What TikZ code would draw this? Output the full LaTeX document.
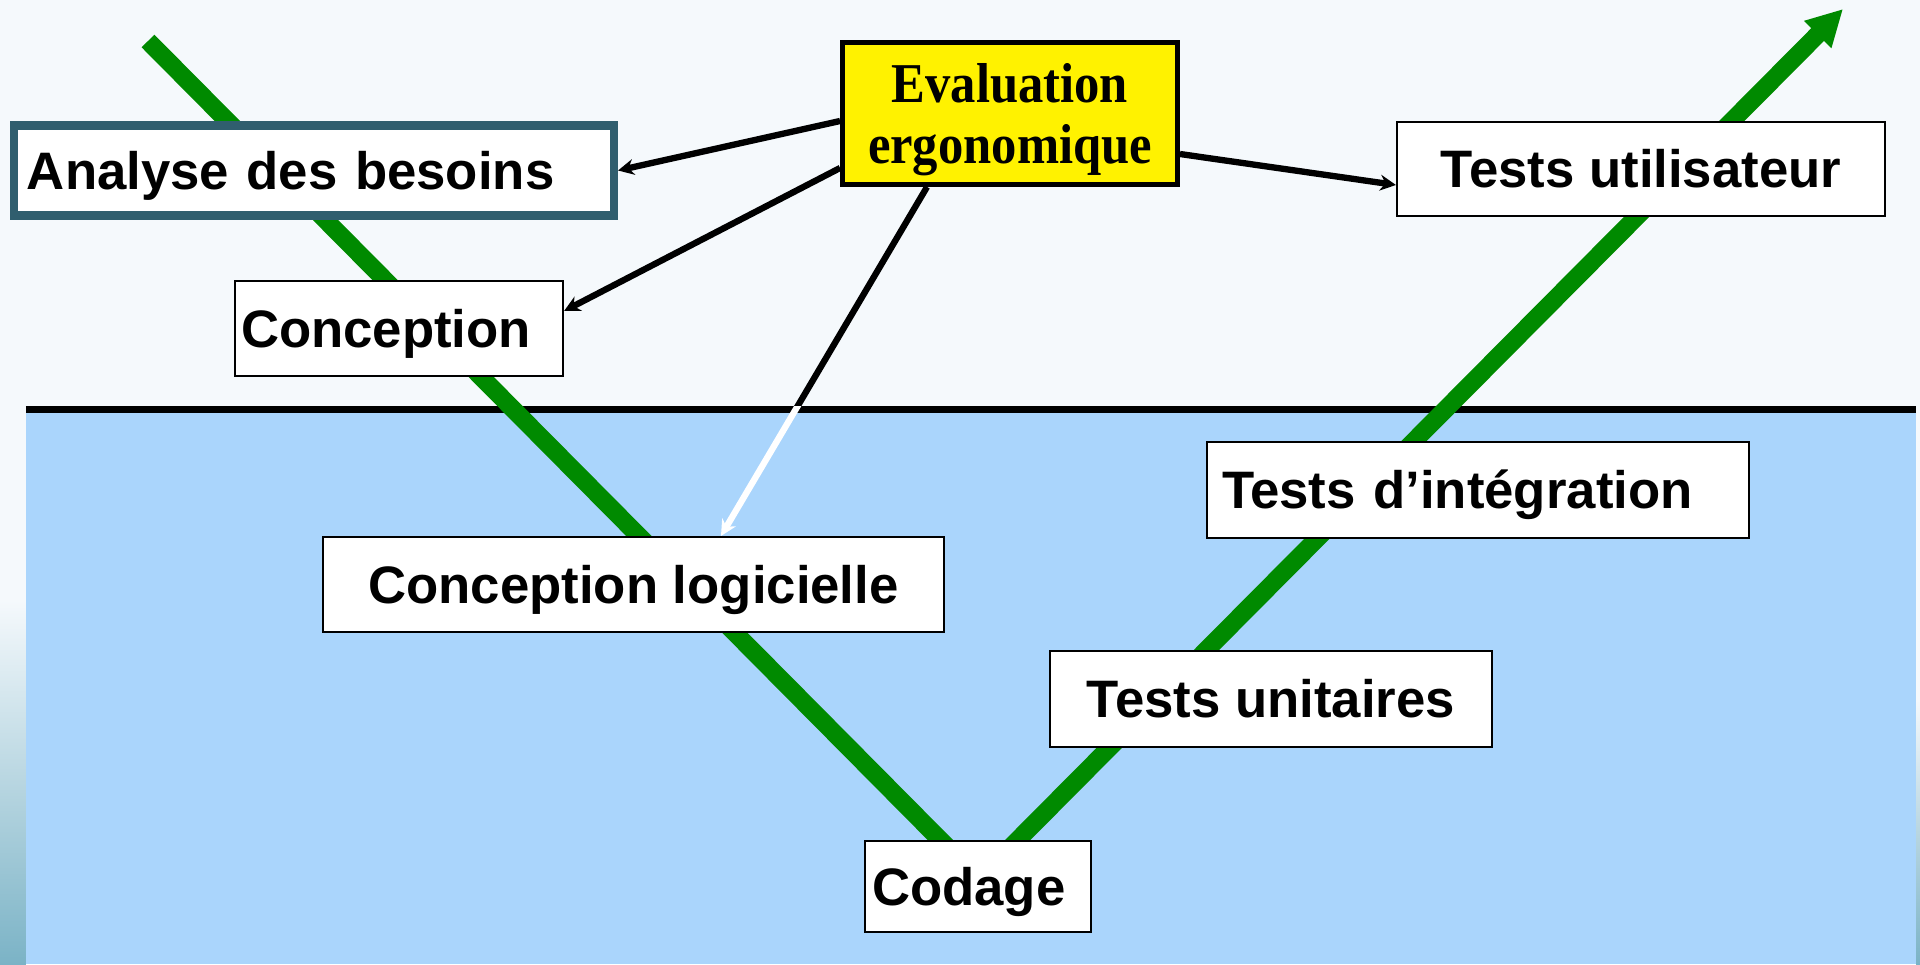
\documentclass[tikz,border=0pt]{standalone}
\usepackage{fontspec}
\setmainfont{Liberation Sans}
\newfontfamily\evalfont[FakeStretch=0.9]{Liberation Serif}
\usepackage{tikz}
\usetikzlibrary{arrows.meta}
\definecolor{fondhaut}{HTML}{F5F9FC}
\definecolor{fondbleu}{HTML}{AAD5FC}
\definecolor{vert}{HTML}{008A00}
\definecolor{bordbesoins}{HTML}{305E6E}
\definecolor{degrade}{HTML}{7BB3C6}

\begin{document}
\begin{tikzpicture}[
        font=\fontsize{15}{18}\selectfont\bfseries,
        >={Stealth[length=4.5pt, width=4.5pt]},
        line width=1.8pt,
        box/.style={
            draw=black,
            fill=white,
            line width=0.6pt,
            inner ysep=0pt,
            text height=10.7pt,
            text depth=0pt
        },
        leftbox/.style={
            box,
            align=left
        },
        evalbox/.style={
            draw=black,
            fill=yellow,
            line width=1.4pt,
            align=center,
            inner sep=0pt,
            text depth=0pt,
            font=\evalfont\fontsize{16}{17.1}\selectfont\bfseries
        },
        phase/.style={
            draw=vert,
            line width=0.18cm,
            -{Triangle[length=0.36cm, width=0.36cm]}
        }
    ]

        \useasboundingbox (0,0) rectangle (19.2,-9.64);
        \fill[fondhaut] (0,0) rectangle (19.2,-9.64);
        \shade[top color=fondhaut, bottom color=degrade] (0,-6.0) rectangle (0.26,-9.64);
        \shade[top color=fondhaut, bottom color=degrade] (19.16,-7.0) rectangle (19.2,-9.64);
        \fill[fondbleu] (0.26,-4.13) rectangle (19.16,-9.64);
        \draw[line width=0.07cm] (0.26,-4.095) -- (19.16,-4.095);

        \coordinate (vhaut) at (1.48,-0.41);
        \coordinate (vbas) at (9.79,-8.79);
        \coordinate (vfleche) at (18.43,-0.09);
        \draw[phase] (vhaut) -- (vbas) -- (vfleche);

        \node[box, line width=2.3pt, draw=bordbesoins, minimum height=0.90cm, text width=5.74cm, inner xsep=0.13cm, align=left] (besoins) at (3.14,-1.705) {Analyse des besoins};
        \node[leftbox, minimum height=0.95cm, text width=3.16cm, inner xsep=0.06cm] (conception) at (3.99,-3.285) {Conception};
        \node[evalbox, minimum width=3.35cm, minimum height=1.42cm] (eval) at (10.10,-1.135) {Evaluation\\ergonomique};
        \node[box, minimum width=4.88cm, minimum height=0.94cm] (utilisateur) at (16.41,-1.69) {Tests utilisateur};
        \node[box, minimum width=6.21cm, minimum height=0.95cm] (logicielle) at (6.335,-5.845) {Conception logicielle};
        \node[leftbox, minimum height=0.96cm, text width=5.12cm, inner xsep=0.15cm] (integration) at (14.78,-4.90) {Tests d’intégration};
        \node[box, minimum width=4.42cm, minimum height=0.96cm] (unitaires) at (12.71,-6.99) {Tests unitaires};
        \node[leftbox, minimum height=0.91cm, text width=2.12cm, inner xsep=0.07cm] (codage) at (9.78,-8.865) {Codage};

        \draw[->] ([yshift=-0.075cm]eval.west) -- (besoins.east);
        \draw[->] ([yshift=-0.545cm]eval.west) -- ([yshift=0.175cm]conception.east);
        \draw[->] ([yshift=-0.405cm]eval.east) -- ([yshift=-0.16cm]utilisateur.west);
        \begin{scope}
            \clip (0,0) rectangle (19.2,-4.06);
            \draw[->] ([xshift=-0.83cm]eval.south) -- ([xshift=0.875cm]logicielle.north);
        \end{scope}
        \begin{scope}
            \clip (0,-4.06) rectangle (19.2,-9.64);
            \draw[->, white] ([xshift=-0.83cm]eval.south) -- ([xshift=0.875cm]logicielle.north);
        \end{scope}

    \end{tikzpicture}
\end{document}
